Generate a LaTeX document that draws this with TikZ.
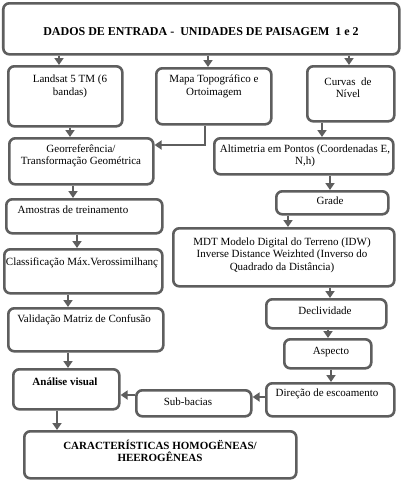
\documentclass[tikz,border=0pt]{standalone}
\usepackage{fontspec}
\setmainfont{Liberation Serif}
\usetikzlibrary{arrows.meta}
\definecolor{bordc}{HTML}{5E5E5E}
\begin{document}
\begin{tikzpicture}[x=1pt,y=-1pt,
  box/.style={draw=bordc,line width=2.6pt,rounded corners=6pt,fill=white,inner sep=0pt},
  txt/.style={font=\fontsize{11}{12.5}\selectfont,align=center,inner sep=0pt},
  btxt/.style={txt,font=\fontsize{11}{12.5}\selectfont\bfseries},
  arr/.style={draw=bordc,line width=2.6pt,-{Triangle[width=9pt,length=7pt]}}]
\useasboundingbox[fill=white] (0,0) rectangle (400,480);
\newcommand{\bx}[5]{\node[box,anchor=north west,minimum width=#4-#2,minimum height=#5-#3] (#1) at (#2,#3) {};}
\bx{top}{2}{2}{398}{53}
\bx{landsat}{7}{65}{121}{125}
\bx{mapa}{155}{67}{270}{123}
\bx{curvas}{306}{65}{393}{120}
\bx{georref}{8}{137}{152}{183}
\bx{altim}{213}{137}{392}{173}
\bx{grade}{275}{190}{387}{213}
\bx{amostras}{5}{198}{161}{232}
\bx{mdt}{172}{227}{393}{285}
\bx{classif}{3}{248}{161}{292}
\bx{valid}{7}{307}{162}{350}
\bx{decl}{265}{298}{385}{327}
\bx{aspecto}{283}{338}{370}{367}
\bx{analise}{12}{368}{118}{408}
\bx{direcao}{265}{382}{393}{415}
\bx{subbacias}{135}{389}{250}{415}
\bx{caract}{23}{430}{295}{477}
% texts
\node[btxt,font=\fontsize{12}{13}\selectfont\bfseries] (ttop) at (201,32) {DADOS DE ENTRADA -\ \ UNIDADES DE PAISAGEM\ \ 1 e 2};
\node[txt] (tlandsat) at (70,86.5) {Landsat 5 TM (6\\bandas)};
\node[txt] (tmapa) at (214,86.5) {Mapa Topográfico e\\Ortoimagem};
\node[txt] (tcurvas) at (348,87.5) {Curvas\ \ de\\Nível};
\node[txt] (tgeorref) at (81,156) {Georreferência/\\Transformação Geométrica};
\node[txt] (taltim) at (305,156) {Altimetria em Pontos (Coordenadas E,\\N,h)};
\node[txt] (tgrade) at (330,201) {Grade};
\node[txt] (tamostras) at (73,210) {Amostras de treinamento};
\node[txt] (tmdt) at (282,255) {MDT Modelo Digital do Terreno (IDW)\\Inverse Distance Weizhted (Inverso do\\Quadrado da Distância)};
\node[txt] (tclassif) at (82,263) {Classificação Máx.Verossimilhanç};
\node[txt] (tvalid) at (84,320) {Validação Matriz de Confusão};
\node[txt] (tdecl) at (325,311) {Declividade};
\node[txt] (taspecto) at (331,352) {Aspecto};
\node[btxt] (tanalise) at (65,382) {Análise visual};
\node[txt] (tdirecao) at (327,394) {Direção de escoamento};
\node[txt] (tsub) at (188,402) {Sub-bacias};
\node[btxt] (tcaract) at (160,451) {CARACTERÍSTICAS HOMOGËNEAS/\\HEEROGÊNEAS};
% arrows
\draw[arr] (top.south -| 59,0) -- (landsat.north -| 59,0);
\draw[arr] (top.south -| 208,0) -- (mapa.north -| 208,0);
\draw[arr] (top.south -| 349,0) -- (curvas.north -| 349,0);
\draw[arr] (landsat.south -| 70,0) -- (georref.north -| 70,0);
\draw[arr] (mapa.south -| 205,0) |- (georref.east |- 0,145);
\draw[arr] (curvas.south -| 322,0) -- (altim.north -| 322,0);
\draw[arr] (georref.south -| 73,0) -- (amostras.north -| 73,0);
\draw[arr] (altim.south -| 330,0) -- (grade.north -| 330,0);
\draw[arr] (grade.south -| 288,0) -- (mdt.north -| 288,0);
\draw[arr] (amostras.south -| 77,0) -- (classif.north -| 77,0);
\draw[arr] (classif.south -| 68,0) -- (valid.north -| 68,0);
\draw[arr] (mdt.south -| 330,0) -- (decl.north -| 330,0);
\draw[arr] (decl.south -| 328,0) -- (aspecto.north -| 328,0);
\draw[arr] (aspecto.south -| 331,0) -- (direcao.north -| 331,0);
\draw[arr] (direcao.west |- 0,397) -- (subbacias.east |- 0,397);
\draw[arr] (subbacias.west |- 0,395) -- (analise.east |- 0,395);
\draw[arr] (valid.south -| 68,0) -- (analise.north -| 68,0);
\draw[arr] (analise.south -| 57,0) -- (caract.north -| 57,0);
\end{tikzpicture}
\end{document}
